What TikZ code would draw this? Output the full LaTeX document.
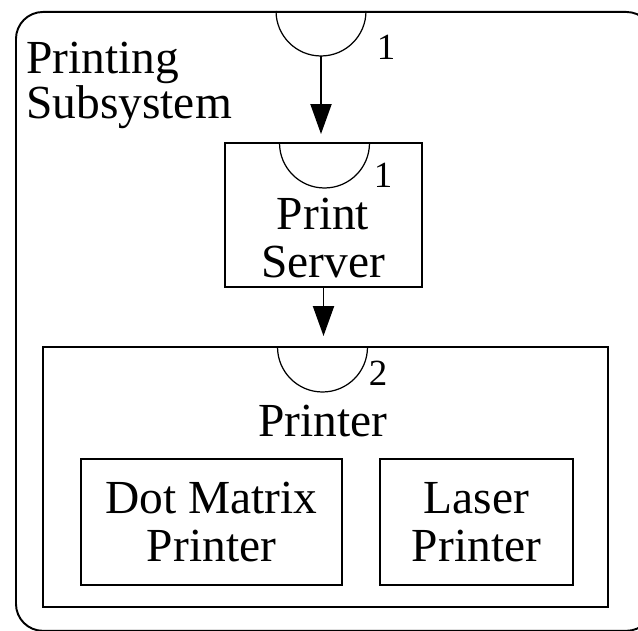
\documentclass[tikz,border=0pt]{standalone}
\usepackage{fontspec}
\setmainfont{Liberation Serif}
\usetikzlibrary{arrows.meta, positioning}

\begin{document}
\begin{tikzpicture}[
    x=0.02cm, y=-0.02cm,
    font=\fontsize{27}{27}\selectfont,
    outer/.style={
        draw,
        line width=1.1pt,
        rounded corners=0.54cm,
        minimum width=12.75cm,
        minimum height=12.38cm
    },
    box/.style={
        draw,
        rectangle,
        line width=1.1pt,
        align=center,
        inner sep=0pt
    },
    txt/.style={align=center, inner sep=0pt},
    socket/.style={line width=0.7pt},
    portnum/.style={inner sep=0pt, font=\fontsize{21}{21}\selectfont},
    arrow/.style={-{Triangle[width=0.42cm, length=0.6cm]}, line width=1.1pt}
]
\useasboundingbox (0,0) rectangle (638,631);
\clip (0,0) rectangle (638,631);

% ===== Subsystem frame =====
\node[outer, anchor=north west] (subsys) at (15,11) {};
\node[txt, align=left, anchor=north west, font=\fontsize{27}{25.5}\selectfont] (subsystxt) at (26,42) {Printing\\Subsystem};

% ===== Boxes =====
\node[box, minimum width=3.94cm, minimum height=2.88cm] (server) at (323.5,215) {};
\node[txt] (servertxt) at (323,238) {Print\\Server};

\node[box, minimum width=11.3cm, minimum height=5.2cm] (printer) at (325.5,477) {};
\node[txt] (printertxt) at (323,421) {Printer};

\node[box, minimum width=5.22cm, minimum height=2.52cm] (dotm) at (211.5,522) {Dot Matrix\\Printer};
\node[box, minimum width=3.86cm, minimum height=2.52cm] (laser) at (476.5,522) {Laser\\Printer};

% ===== Sockets =====
\coordinate (sock0) at (321,11);
\coordinate (sock1) at (324.5,143);
\coordinate (sock2) at (322.5,347);

\draw[socket] ([xshift=-0.9cm]sock0) arc[start angle=180, end angle=360, radius=0.9cm];
\draw[socket] ([xshift=-0.9cm]sock1) arc[start angle=180, end angle=360, radius=0.9cm];
\draw[socket] ([xshift=-0.9cm]sock2) arc[start angle=180, end angle=360, radius=0.9cm];

\coordinate (sock0b) at ([yshift=-0.9cm]sock0);

\node[portnum] (num0) at (386,47) {1};
\node[portnum] (num1) at (383,175) {1};
\node[portnum] (num2) at (378,373) {2};

% ===== Arrows =====
\draw[arrow, shorten >=0.16cm] (sock0b) -- (sock0b |- server.north);
\draw[arrow, shorten >=0.2cm] (server.south) -- (server.south |- printer.north);

\end{tikzpicture}
\end{document}
